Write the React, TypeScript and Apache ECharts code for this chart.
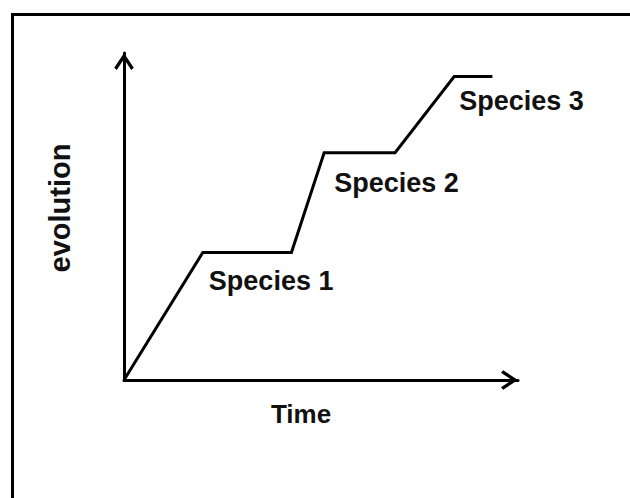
import React, { useEffect, useRef } from "react";
import * as echarts from "echarts";

const timeValues = [0, 2.0, 4.25, 5.08, 6.88, 8.38, 9.35];
const evolutionValues = [0, 3.9, 3.9, 6.95, 6.95, 9.28, 9.28];
const speciesLabels: { index: number; text: string; offset: [number, number] }[] = [
  { index: 1, text: "Species 1", offset: [1, 29] },
  { index: 3, text: "Species 2", offset: [5, 30] },
  { index: 5, text: "Species 3", offset: [0, 24] },
];
const xAxisName = "Time";
const yAxisName = "evolution";

const FONT = "'Liberation Sans', Arial, sans-serif";
const CHEVRON = "path://M5,0 L10,7.6 L8.7,8.7 L5,3.1 L1.3,8.7 L0,7.6 Z";

export default function App() {
  const ref = useRef<HTMLDivElement>(null);
  useEffect(() => {
    if (!ref.current) return;
    const chart = echarts.init(ref.current, null, { renderer: "svg" });
    const data = timeValues.map((t, i) => {
      const lab = speciesLabels.find((s) => s.index === i);
      const item: any = { value: [t, evolutionValues[i]] };
      if (lab) {
        item.label = {
          show: true,
          formatter: lab.text,
          position: "right",
          offset: lab.offset,
          fontSize: 27,
          fontWeight: "bold",
          fontFamily: FONT,
          color: "#111",
        };
      }
      return item;
    });
    const axisLine = {
      show: true,
      symbol: ["none", CHEVRON],
      symbolSize: [22, 17],
      symbolOffset: [0, -8.5],
      lineStyle: { color: "#000", width: 3 },
    };
    chart.setOption({
      animation: false,
      backgroundColor: "#fff",
      grid: { left: 124, right: 112, top: 53, bottom: 118, containLabel: false },
      xAxis: {
        type: "value",
        min: 0,
        max: 10,
        name: xAxisName,
        nameLocation: "middle",
        nameGap: 21,
        nameTextStyle: {
          fontSize: 26,
          fontWeight: "bold",
          fontFamily: FONT,
          color: "#111",
          padding: [0, 40, 0, 0],
        },
        axisLine,
        axisTick: { show: false },
        axisLabel: { show: false },
        splitLine: { show: false },
      },
      yAxis: {
        type: "value",
        min: 0,
        max: 10,
        name: yAxisName,
        nameLocation: "middle",
        nameGap: 50,
        nameTextStyle: {
          fontSize: 29,
          fontWeight: "bold",
          fontFamily: FONT,
          color: "#111",
          padding: [0, 0, 0, 17],
        },
        axisLine,
        axisTick: { show: false },
        axisLabel: { show: false },
        splitLine: { show: false },
      },
      graphic: [
        {
          type: "rect",
          shape: { x: 12.5, y: 14.5, width: 700, height: 600 },
          style: { fill: "none", stroke: "#000", lineWidth: 3 },
          silent: true,
        },
      ],
      series: [
        {
          type: "line",
          data,
          symbol: "circle",
          symbolSize: 0.1,
          showSymbol: true,
          itemStyle: { color: "#000" },
          lineStyle: { color: "#000", width: 3, join: "miter" },
          z: 3,
        },
      ],
    });
    return () => chart.dispose();
  }, []);
  return (
    <div
      ref={ref}
      style={{ position: "fixed", left: 0, top: 0, width: 630, height: 498 }}
    />
  );
}
